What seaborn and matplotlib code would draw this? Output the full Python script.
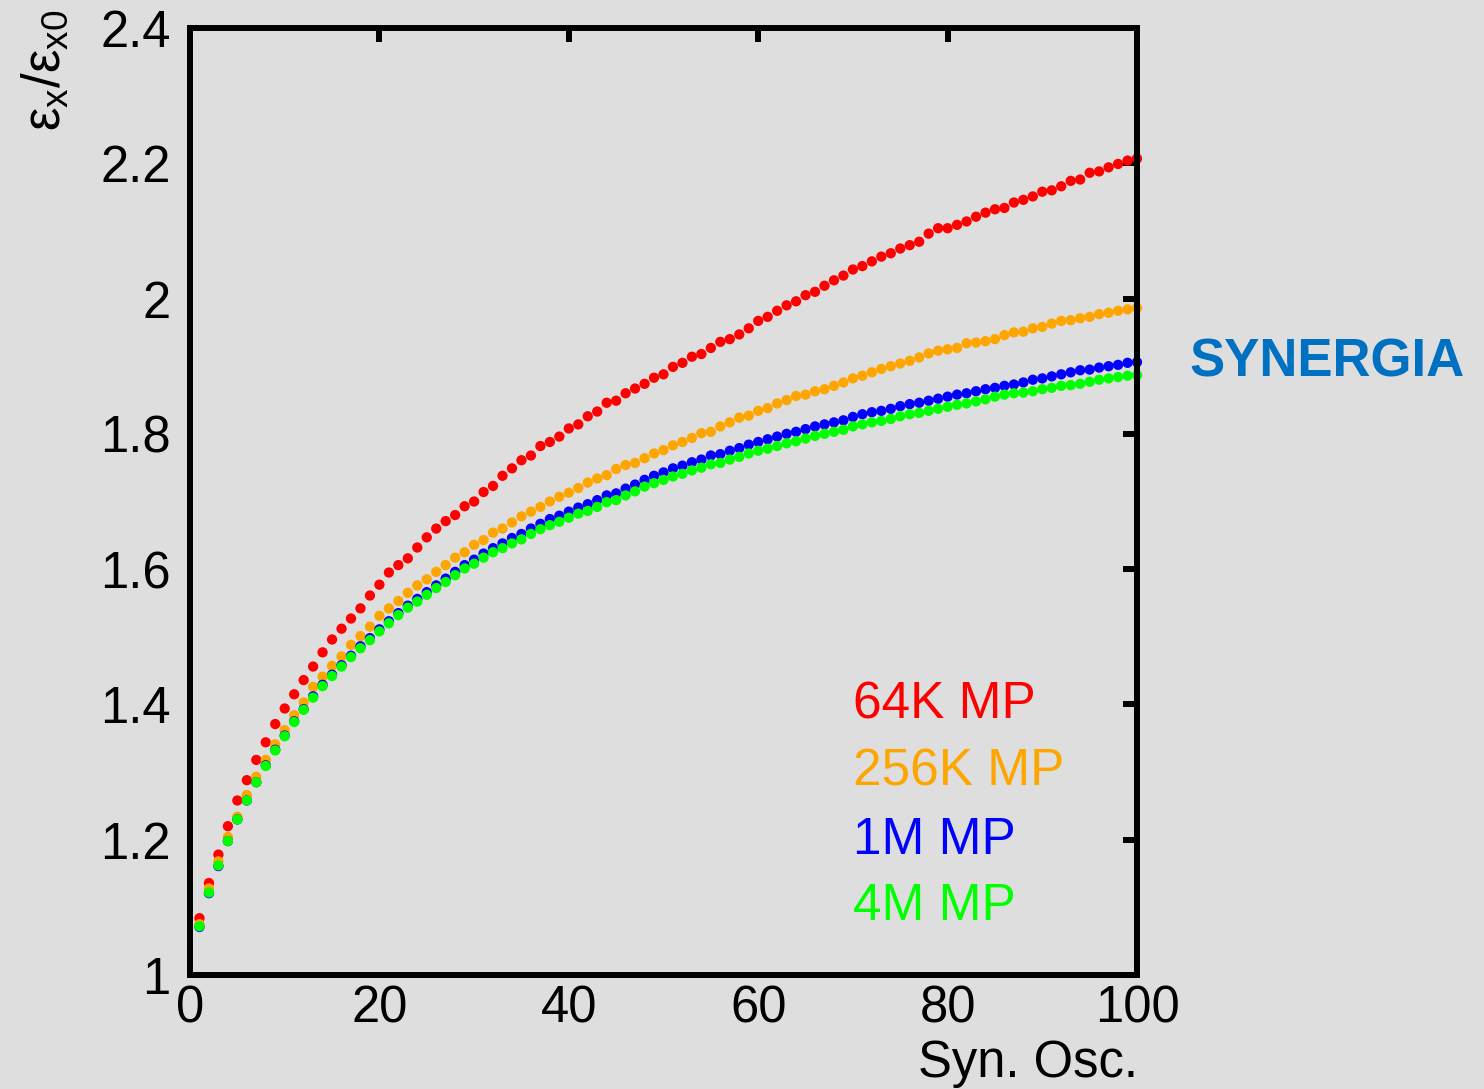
import numpy as np
import pandas as pd
import matplotlib
matplotlib.use("Agg")
import matplotlib.pyplot as plt
import seaborn as sns

# ---------------- data ----------------
syn_osc = list(range(1, 101))

red_64k = [1.084, 1.136, 1.178, 1.220, 1.258, 1.288, 1.318, 1.344, 1.371, 1.394,
           1.415, 1.436, 1.456, 1.477, 1.496, 1.512, 1.527, 1.542, 1.561, 1.577,
           1.595, 1.606, 1.616, 1.632, 1.647, 1.660, 1.671, 1.680, 1.693, 1.700,
           1.714, 1.723, 1.738, 1.749, 1.761, 1.768, 1.782, 1.788, 1.796, 1.808,
           1.814, 1.826, 1.833, 1.846, 1.849, 1.860, 1.867, 1.874, 1.883, 1.888,
           1.899, 1.905, 1.914, 1.918, 1.927, 1.936, 1.940, 1.947, 1.956, 1.967,
           1.973, 1.982, 1.990, 1.996, 2.005, 2.010, 2.019, 2.027, 2.034, 2.043,
           2.048, 2.055, 2.062, 2.067, 2.074, 2.079, 2.084, 2.096, 2.104, 2.104,
           2.109, 2.114, 2.121, 2.127, 2.132, 2.134, 2.142, 2.146, 2.151, 2.158,
           2.160, 2.166, 2.174, 2.176, 2.186, 2.188, 2.194, 2.199, 2.204, 2.207]

orange_256k = [1.075, 1.128, 1.168, 1.204, 1.234, 1.266, 1.293, 1.318, 1.341, 1.362,
               1.384, 1.403, 1.426, 1.441, 1.457, 1.471, 1.488, 1.501, 1.515, 1.531,
               1.542, 1.553, 1.565, 1.576, 1.585, 1.596, 1.606, 1.617, 1.625, 1.636,
               1.643, 1.654, 1.660, 1.669, 1.678, 1.685, 1.692, 1.700, 1.707, 1.713,
               1.720, 1.728, 1.734, 1.739, 1.748, 1.754, 1.757, 1.764, 1.771, 1.776,
               1.783, 1.788, 1.794, 1.801, 1.803, 1.811, 1.817, 1.824, 1.827, 1.834,
               1.838, 1.845, 1.850, 1.856, 1.858, 1.863, 1.866, 1.871, 1.876, 1.882,
               1.886, 1.891, 1.896, 1.900, 1.904, 1.908, 1.913, 1.919, 1.923, 1.925,
               1.927, 1.934, 1.935, 1.937, 1.940, 1.946, 1.950, 1.951, 1.956, 1.958,
               1.963, 1.967, 1.968, 1.971, 1.973, 1.977, 1.979, 1.982, 1.984, 1.986]

blue_1m = [1.071, 1.121, 1.161, 1.198, 1.230, 1.258, 1.285, 1.310, 1.333, 1.354,
           1.375, 1.393, 1.412, 1.429, 1.444, 1.458, 1.472, 1.486, 1.498, 1.511,
           1.523, 1.535, 1.546, 1.556, 1.566, 1.576, 1.586, 1.596, 1.606, 1.614,
           1.623, 1.631, 1.638, 1.646, 1.652, 1.660, 1.667, 1.674, 1.679, 1.685,
           1.691, 1.696, 1.702, 1.709, 1.712, 1.719, 1.725, 1.732, 1.738, 1.743,
           1.749, 1.753, 1.758, 1.762, 1.768, 1.770, 1.775, 1.779, 1.784, 1.788,
           1.792, 1.796, 1.800, 1.803, 1.807, 1.811, 1.814, 1.817, 1.820, 1.825,
           1.829, 1.832, 1.834, 1.837, 1.841, 1.844, 1.846, 1.849, 1.852, 1.855,
           1.858, 1.860, 1.863, 1.866, 1.868, 1.871, 1.873, 1.876, 1.880, 1.882,
           1.885, 1.888, 1.891, 1.894, 1.895, 1.898, 1.900, 1.902, 1.905, 1.906]

green_4m = [1.072, 1.122, 1.162, 1.198, 1.230, 1.258, 1.285, 1.309, 1.332, 1.353,
            1.374, 1.392, 1.410, 1.427, 1.442, 1.456, 1.470, 1.483, 1.495, 1.508,
            1.520, 1.532, 1.543, 1.552, 1.562, 1.572, 1.581, 1.591, 1.601, 1.608,
            1.617, 1.625, 1.631, 1.638, 1.644, 1.652, 1.659, 1.665, 1.670, 1.676,
            1.682, 1.686, 1.692, 1.699, 1.702, 1.709, 1.715, 1.722, 1.727, 1.732,
            1.737, 1.741, 1.746, 1.750, 1.755, 1.757, 1.762, 1.766, 1.771, 1.775,
            1.778, 1.782, 1.786, 1.789, 1.793, 1.797, 1.800, 1.803, 1.806, 1.811,
            1.814, 1.817, 1.819, 1.822, 1.826, 1.829, 1.831, 1.834, 1.837, 1.840,
            1.843, 1.845, 1.848, 1.851, 1.855, 1.858, 1.860, 1.861, 1.863, 1.866,
            1.868, 1.871, 1.872, 1.874, 1.877, 1.880, 1.882, 1.884, 1.886, 1.887]

series_names = ["64K MP", "256K MP", "1M MP", "4M MP"]
series_values = [red_64k, orange_256k, blue_1m, green_4m]
series_colors = ["#ff0000", "#ffa500", "#0000ff", "#00ff00"]

x_ticks = [0, 20, 40, 60, 80, 100]
y_ticks = [1.0, 1.2, 1.4, 1.6, 1.8, 2.0, 2.2, 2.4]
y_tick_labels = ["1", "1.2", "1.4", "1.6", "1.8", "2", "2.2", "2.4"]

# ---------------- style ----------------
bg = "#dedede"
sns.set_theme(style="white")
plt.rcParams["font.family"] = ["Liberation Sans", "DejaVu Sans"]
plt.rcParams["mathtext.fontset"] = "custom"
plt.rcParams["mathtext.rm"] = "Liberation Sans"
plt.rcParams["mathtext.it"] = "Liberation Sans"
plt.rcParams["mathtext.bf"] = "Liberation Sans:bold"

fig = plt.figure(figsize=(14.84, 10.89), dpi=100, facecolor=bg)
ax = fig.add_axes([190 / 1484, 1 - 975 / 1089, (1137 - 190) / 1484, (975 - 28) / 1089])
ax.set_facecolor(bg)

df = pd.concat(
    [pd.DataFrame({"x": syn_osc, "y": vals, "series": name})
     for name, vals in zip(series_names, series_values)],
    ignore_index=True,
)

sns.scatterplot(
    data=df, x="x", y="y", hue="series", hue_order=series_names,
    palette=dict(zip(series_names, series_colors)),
    s=55, linewidth=0, legend=False, ax=ax, clip_on=False,
)

ax.set_xlim(0, 100)
ax.set_ylim(1.0, 2.4)
ax.set_xticks(x_ticks)
ax.set_xticklabels([str(t) for t in x_ticks])
ax.set_yticks(y_ticks)
ax.set_yticklabels(y_tick_labels)
ax.set_xlabel("")
ax.set_ylabel("")

for sp in ax.spines.values():
    sp.set_visible(True)
    sp.set_color("black")
    sp.set_linewidth(4.3)
    sp.set_zorder(5)

ax.tick_params(axis="both", which="major", direction="in", length=10, width=4.3,
               color="black", top=True, right=True, labelsize=36.5, labelcolor="black")
ax.tick_params(axis="x", pad=7)
ax.tick_params(axis="y", pad=14)

# axis labels
fig.text(1138 / 1484, 1 - 1077 / 1089, "Syn. Osc.", ha="right", va="baseline",
         fontsize=36.5, color="black")
fig.text(45 / 1484, 1 - 10 / 1089, r"$\varepsilon_x/\varepsilon_{x0}$", rotation=90,
         ha="center", va="top", fontsize=38, color="black")

# series labels (coloured text key)
label_y = [705, 772, 840, 907]
for name, col, yy in zip(series_names, series_colors, label_y):
    fig.text(853 / 1484, 1 - yy / 1089, name, ha="left", va="center",
             fontsize=37, color=col)

fig.text(1189 / 1484, 1 - 363 / 1089, "SYNERGIA", ha="left", va="center",
         fontsize=38, fontweight="bold", color="#0070c0")

fig.savefig("out.png", dpi=100, facecolor=bg)
